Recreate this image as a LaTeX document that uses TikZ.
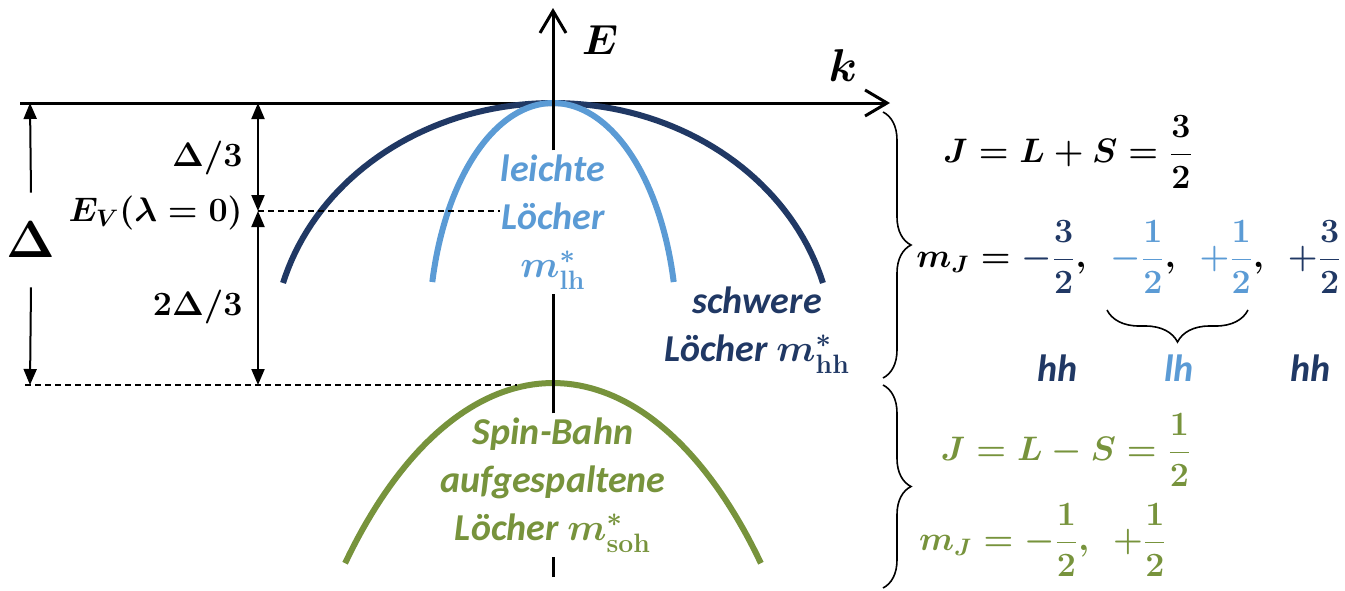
\RequirePackage{fix-cm}
\documentclass[tikz,border=0pt]{standalone}
\usepackage[no-math]{fontspec}
\usepackage{amsmath}
\usetikzlibrary{arrows.meta, decorations.pathreplacing}
\newfontfamily\carlito{Carlito}

% Make sure the bold math version really is bold
\DeclareSymbolFont{operators}{OT1}{cmr}{m}{n}
\SetSymbolFont{operators}{bold}{OT1}{cmr}{bx}{n}
\SetSymbolFont{symbols}{bold}{OMS}{cmsy}{b}{n}
\SetMathAlphabet{\mathbf}{normal}{OT1}{cmr}{bx}{n}
\SetMathAlphabet{\mathbf}{bold}{OT1}{cmr}{bx}{n}

\tikzset{
    dimTip/.tip={Triangle[length=8pt,width=6.5pt]},
    axisTip/.tip={Straight Barb[length=11pt,width=13pt]},
    bandText/.style={font=\carlito\bfseries\itshape\fontsize{19}{24}\selectfont\boldmath, align=center, inner sep=2pt},
    dimText/.style={font=\fontsize{17}{20}\selectfont\boldmath, inner sep=1pt, anchor=east},
    eqText/.style={font=\fontsize{17}{20}\selectfont\boldmath, inner sep=1pt},
    bandLine/.style={line width=3pt},
    axisLine/.style={line width=1.5pt},
    dimArrow/.style={line width=1pt, dimTip-dimTip},
    helperLine/.style={line width=0.8pt, dash pattern=on 3pt off 2pt},
    braceLine/.style={line width=0.8pt, decorate, decoration={brace, amplitude=14pt}},
}

\begin{document}
\begin{tikzpicture}[x=0.5pt, y=-0.5pt]
    % Define colours
    \definecolor{heavyBlue}{HTML}{203864}
    \definecolor{lightBlue}{HTML}{5B9BD5}
    \definecolor{soGreen}{HTML}{77933C}

    \useasboundingbox (0,0) rectangle (1345,590);

    % Axis end points
    \coordinate (kStart) at (20,103);
    \coordinate (kTip) at (890,103);
    \coordinate (eTip) at (553,8);
    \coordinate (eBottom) at (553,577);

    % Draw k axis
    \draw[axisLine, -axisTip] (kStart) -- (kTip);
    \node[font=\fontsize{23}{26}\selectfont\boldmath] (kLabel) at (843,66) {$k$};

    % Draw the bands (elliptic arcs below the maximum)
    \draw[bandLine, heavyBlue] plot[domain=164.6:15.4, samples=80] ({553+280*cos(\x)}, {348-245*sin(\x)});
    \draw[bandLine, lightBlue] plot[domain=166.8:13.2, samples=80] ({553+124*cos(\x)}, {335-232*sin(\x)});
    \draw[bandLine, soGreen] plot[domain=135.6:44.4, samples=80] ({553+291*cos(\x)}, {983-600*sin(\x)});

    % Band labels
    \node[bandText, text=lightBlue] (lhText) at (553,222) {leichte\\Löcher\\$m^{*}_{\mathbf{lh}}$};
    \node[bandText, text=heavyBlue] (hhText) at (757,330) {schwere\\Löcher $m^{*}_{\mathbf{hh}}$};
    \node[bandText, text=soGreen] (sohText) at (553,485) {Spin-Bahn\\aufgespaltene\\Löcher $m^{*}_{\mathbf{soh}}$};

    % Draw E axis between the labels
    \draw[axisLine] (eBottom) -- (sohText.south);
    \draw[axisLine] (sohText.north) -- (lhText.south);
    \draw[axisLine, -axisTip] (lhText.north) -- (eTip);
    \node[font=\fontsize{21}{24}\selectfont\boldmath] (eLabel) at (600,40) {$E$};

    % Splitting on the left
    \coordinate (deltaTop) at (30,103);
    \coordinate (deltaBottom) at (30,385);
    \node[font=\fontsize{26}{30}\selectfont\boldmath, minimum height=47pt, inner sep=0pt] (bigDelta) at (31,240) {$\Delta$};
    \draw[line width=1pt, -dimTip] (bigDelta.north) -- (deltaTop);
    \draw[line width=1pt, -dimTip] (bigDelta.south) -- (deltaBottom);

    \coordinate (splitTop) at (258,103);
    \coordinate (splitMid) at (258,211);
    \coordinate (splitBottom) at (258,385);
    \draw[dimArrow] (splitTop) -- (splitMid);
    \draw[dimArrow] (splitMid) -- (splitBottom);

    \node[dimText] (thirdLabel) at (245,158) {$\Delta/3$};
    \node[dimText] (evLabel) at (245,213) {$E_V(\lambda = 0)$};
    \node[dimText] (twoThirdLabel) at (245,307) {$2\Delta/3$};

    % Dashed reference levels
    \coordinate (evEnd) at (500,211);
    \coordinate (soStart) at (25,385);
    \coordinate (soEnd) at (517,385);
    \draw[helperLine] (splitMid) -- (evEnd);
    \draw[helperLine] (soStart) -- (soEnd);

    % Quantum numbers of the upper bands
    \draw[braceLine] (883,112) -- (883,378);
    \node[eqText] (jHeavy) at (1068,152) {$J = L + S = \dfrac{3}{2}$};
    \node[eqText] (mjHeavy) at (1129,257) {$m_J = \textcolor{heavyBlue}{-\dfrac{3}{2}},\;\, \textcolor{lightBlue}{-\dfrac{1}{2}},\;\, \textcolor{lightBlue}{+\dfrac{1}{2}},\;\, \textcolor{heavyBlue}{+\dfrac{3}{2}}$};
    \coordinate (lhRight) at (1248,310);
    \coordinate (lhLeft) at (1107,310);
    \draw[braceLine, decoration={amplitude=16pt}] (lhRight) -- (lhLeft);
    \node[bandText, text=heavyBlue] (hhLeft) at (1058,368) {hh};
    \node[bandText, text=lightBlue] (lhMid) at (1179,368) {lh};
    \node[bandText, text=heavyBlue] (hhRight) at (1311,368) {hh};

    % Quantum numbers of the split-off band
    \draw[braceLine] (883,385) -- (883,588);
    \node[eqText, text=soGreen] (jSplit) at (1066,450) {$J = L - S = \dfrac{1}{2}$};
    \node[eqText, text=soGreen] (mjSplit) at (1043,540) {$m_J = -\dfrac{1}{2},\;\, +\dfrac{1}{2}$};

\end{tikzpicture}
\end{document}
